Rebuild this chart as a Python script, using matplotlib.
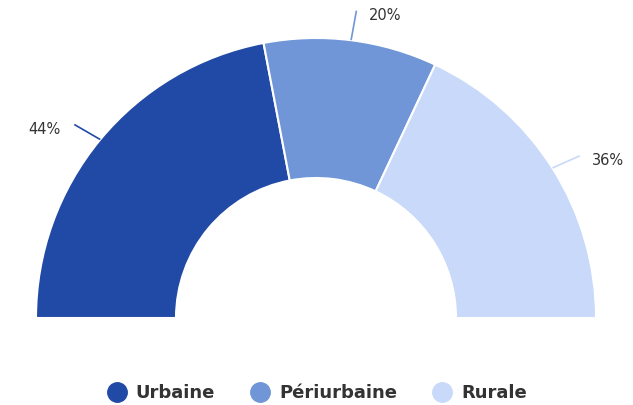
import numpy as np
import matplotlib
matplotlib.use("Agg")
import matplotlib.pyplot as plt
from matplotlib.lines import Line2D

categories = ["Urbaine", "Périurbaine", "Rurale"]
shares = [44, 20, 36]
labels = ["44%", "20%", "36%"]
colors = ["#2149a6", "#7096d8", "#c8d9f9"]

W, H = 633, 405
cx, cy = 316, 87      # centre du demi-anneau (px, y vers le haut)
R, ring = 280, 140

fig = plt.figure(figsize=(W / 100, H / 100), dpi=100)
ax = fig.add_axes([0, 0, 1, 1])

# demi-cercle : les parts font 0.5 au total
fracs = [s / 200 for s in shares]
ax.pie(fracs, colors=colors, startangle=180, counterclock=False, normalize=False,
       center=(cx, cy), radius=R, frame=True,
       wedgeprops=dict(width=ring, edgecolor="white", linewidth=1.5))
ax.set_xlim(0, W)
ax.set_ylim(0, H)
ax.axis("off")

# étiquettes avec connecteurs
start = 180.0
for share, lab, col in zip(shares, labels, colors):
    span = share * 1.8
    mid = np.radians(start - span / 2)
    start -= span
    x0, y0 = cx + R * np.cos(mid), cy + R * np.sin(mid)
    d = np.arctan2(np.sin(mid) * 0.7, np.cos(mid))
    x1, y1 = x0 + 30 * np.cos(d), y0 + 30 * np.sin(d)
    ax.plot([x0, x1], [y0, y1], color=col, lw=1.2, solid_capstyle="butt")
    right = np.cos(mid) >= 0
    ax.text(x1 + (12 if right else -14), y1 - 5, lab,
            ha="left" if right else "right", va="center",
            fontsize=10.5, color="#333333")

handles = [Line2D([], [], marker="o", linestyle="", markersize=14,
                  markerfacecolor=c, markeredgecolor=c) for c in colors]
leg = fig.legend(handles, categories, loc="center", ncol=3,
                 bbox_to_anchor=(0.5, (H - 393) / H), frameon=False,
                 handletextpad=0.45, columnspacing=1.9, handlelength=1.2,
                 prop=dict(weight="bold", size=13))
for t in leg.get_texts():
    t.set_color("#333333")

fig.savefig("out.png", dpi=100)
